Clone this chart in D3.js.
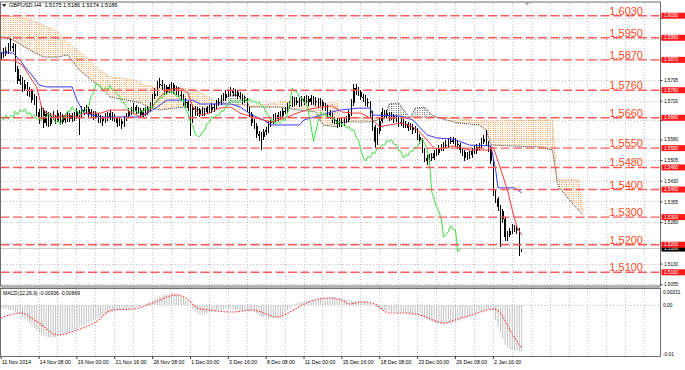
<!DOCTYPE html>
<html>
<head>
<meta charset="utf-8">
<script src="https://cdn.jsdelivr.net/npm/d3@7/dist/d3.min.js"></script>
<style>
  html, body { margin: 0; padding: 0; background: #ffffff; }
  svg { display: block; }
  text { font-family: "Liberation Sans", Arial, "DejaVu Sans", sans-serif; }
</style>
</head>
<body>
<svg id="chart" width="685" height="370"></svg>
<script>
// ================= DATA =================
const symbolTitle = "GBPUSD,H4  1.5175 1.5186 1.5174 1.5186";
const macdTitle = "MACD(12,26,9) -0.00936 -0.00869";

const timeLabels = ["11 Nov 2014","14 Nov 08:00","19 Nov 00:00","21 Nov 16:00","26 Nov 08:00","1 Dec 00:00","3 Dec 16:00","8 Dec 08:00","11 Dec 00:00","15 Dec 16:00","18 Dec 08:00","23 Dec 00:00","29 Dec 08:00","2 Jan 16:00"];
const timeLabelBars = [0,16,32,48,64,80,96,112,128,144,160,176,192,208];

const closes = [
1.5884,1.5902,1.5896,1.5921,1.5912,1.5920,1.5838,1.5795,1.5802,1.5766,
1.5784,1.5748,1.5760,1.5725,1.5735,1.5680,1.5664,1.5690,1.5640,1.5672,
1.5638,1.5668,1.5662,1.5650,1.5676,1.5646,1.5665,1.5652,1.5670,1.5655,
1.5668,1.5661,1.5684,1.5672,1.5690,1.5681,1.5693,1.5672,1.5680,1.5664,
1.5672,1.5654,1.5660,1.5648,1.5668,1.5660,1.5677,1.5662,1.5660,1.5642,
1.5650,1.5636,1.5660,1.5665,1.5684,1.5682,1.5700,1.5686,1.5688,1.5670,
1.5686,1.5678,1.5694,1.5702,1.5738,1.5748,1.5784,1.5780,1.5776,1.5755,
1.5770,1.5760,1.5778,1.5758,1.5764,1.5744,1.5740,1.5715,1.5716,1.5697,
1.5688,1.5695,1.5679,1.5687,1.5675,1.5686,1.5680,1.5694,1.5687,1.5700,
1.5694,1.5715,1.5716,1.5734,1.5730,1.5748,1.5745,1.5758,1.5749,1.5755,
1.5738,1.5740,1.5722,1.5726,1.5690,1.5675,1.5642,1.5632,1.5600,1.5594,
1.5592,1.5610,1.5614,1.5640,1.5643,1.5664,1.5657,1.5671,1.5668,1.5686,
1.5683,1.5704,1.5706,1.5726,1.5715,1.5722,1.5712,1.5727,1.5719,1.5729,
1.5716,1.5730,1.5716,1.5722,1.5711,1.5719,1.5701,1.5700,1.5676,1.5671,
1.5651,1.5653,1.5636,1.5646,1.5640,1.5653,1.5651,1.5675,1.5712,1.5768,
1.5756,1.5755,1.5734,1.5733,1.5716,1.5714,1.5676,1.5628,1.5574,1.5612,
1.5648,1.5682,1.5668,1.5676,1.5660,1.5668,1.5654,1.5657,1.5640,1.5646,
1.5633,1.5639,1.5622,1.5628,1.5614,1.5617,1.5590,1.5580,1.5545,1.5515,
1.5503,1.5519,1.5516,1.5534,1.5531,1.5552,1.5549,1.5563,1.5560,1.5577,
1.5574,1.5581,1.5564,1.5563,1.5542,1.5537,1.5514,1.5526,1.5524,1.5541,
1.5538,1.5555,1.5553,1.5574,1.5584,1.5566,1.5548,1.5502,1.5391,1.5366,
1.5336,1.5322,1.5292,1.5228,1.5236,1.5248,1.5268,1.5256,1.5254,1.5175,
1.5186];

const highs = [
1.5900,1.5912,1.5915,1.5932,1.5949,1.5930,1.5926,1.5848,1.5815,1.5808,
1.5796,1.5790,1.5772,1.5766,1.5745,1.5740,1.5692,1.5702,1.5696,1.5684,
1.5680,1.5678,1.5686,1.5670,1.5688,1.5682,1.5675,1.5672,1.5680,1.5678,
1.5676,1.5680,1.5694,1.5690,1.5702,1.5700,1.5706,1.5698,1.5692,1.5686,
1.5684,1.5678,1.5670,1.5666,1.5678,1.5680,1.5690,1.5682,1.5672,1.5664,
1.5660,1.5656,1.5668,1.5678,1.5694,1.5698,1.5712,1.5708,1.5700,1.5694,
1.5696,1.5698,1.5704,1.5716,1.5748,1.5768,1.5795,1.5806,1.5798,1.5784,
1.5780,1.5782,1.5790,1.5786,1.5776,1.5770,1.5756,1.5746,1.5730,1.5722,
1.5710,1.5706,1.5704,1.5698,1.5694,1.5698,1.5696,1.5704,1.5706,1.5712,
1.5710,1.5726,1.5732,1.5744,1.5750,1.5760,1.5764,1.5770,1.5768,1.5766,
1.5762,1.5752,1.5746,1.5738,1.5732,1.5700,1.5682,1.5654,1.5640,1.5612,
1.5608,1.5620,1.5628,1.5650,1.5656,1.5674,1.5676,1.5682,1.5684,1.5696,
1.5700,1.5714,1.5722,1.5738,1.5736,1.5734,1.5730,1.5738,1.5740,1.5742,
1.5738,1.5742,1.5738,1.5734,1.5730,1.5730,1.5726,1.5714,1.5706,1.5688,
1.5678,1.5664,1.5660,1.5656,1.5658,1.5664,1.5668,1.5688,1.5728,1.5782,
1.5784,1.5772,1.5762,1.5748,1.5742,1.5730,1.5720,1.5684,1.5634,1.5622,
1.5662,1.5694,1.5690,1.5688,1.5682,1.5680,1.5674,1.5670,1.5662,1.5658,
1.5654,1.5650,1.5646,1.5640,1.5636,1.5630,1.5624,1.5600,1.5586,1.5552,
1.5524,1.5530,1.5532,1.5544,1.5548,1.5562,1.5566,1.5574,1.5578,1.5588,
1.5592,1.5592,1.5586,1.5576,1.5568,1.5552,1.5542,1.5536,1.5540,1.5552,
1.5556,1.5566,1.5570,1.5586,1.5598,1.5616,1.5576,1.5556,1.5510,1.5402,
1.5372,1.5345,1.5328,1.5300,1.5248,1.5262,1.5275,1.5272,1.5268,1.5260,
1.5186];

const lows = [
1.5870,1.5876,1.5885,1.5890,1.5902,1.5898,1.5825,1.5782,1.5780,1.5752,
1.5758,1.5738,1.5735,1.5712,1.5705,1.5668,1.5638,1.5655,1.5622,1.5632,
1.5625,1.5630,1.5652,1.5638,1.5644,1.5634,1.5638,1.5640,1.5645,1.5644,
1.5646,1.5650,1.5655,1.5598,1.5664,1.5670,1.5675,1.5660,1.5664,1.5652,
1.5656,1.5642,1.5640,1.5632,1.5640,1.5650,1.5652,1.5650,1.5645,1.5628,
1.5630,1.5620,1.5628,1.5648,1.5658,1.5670,1.5676,1.5675,1.5672,1.5660,
1.5662,1.5668,1.5670,1.5686,1.5696,1.5728,1.5740,1.5768,1.5762,1.5744,
1.5746,1.5750,1.5754,1.5748,1.5744,1.5734,1.5726,1.5702,1.5700,1.5684,
1.5595,1.5640,1.5666,1.5668,1.5662,1.5666,1.5668,1.5672,1.5676,1.5678,
1.5682,1.5688,1.5704,1.5708,1.5720,1.5722,1.5734,1.5738,1.5738,1.5740,
1.5728,1.5726,1.5710,1.5712,1.5680,1.5662,1.5630,1.5618,1.5588,1.5575,
1.5545,1.5580,1.5598,1.5606,1.5628,1.5636,1.5646,1.5648,1.5656,1.5660,
1.5672,1.5676,1.5694,1.5700,1.5704,1.5706,1.5700,1.5704,1.5708,1.5710,
1.5704,1.5708,1.5705,1.5704,1.5700,1.5702,1.5690,1.5686,1.5664,1.5656,
1.5640,1.5636,1.5624,1.5626,1.5628,1.5632,1.5640,1.5644,1.5666,1.5704,
1.5744,1.5740,1.5724,1.5718,1.5704,1.5698,1.5664,1.5612,1.5550,1.5562,
1.5602,1.5640,1.5658,1.5660,1.5648,1.5652,1.5642,1.5644,1.5628,1.5630,
1.5622,1.5624,1.5612,1.5614,1.5602,1.5604,1.5580,1.5566,1.5532,1.5498,
1.5489,1.5494,1.5504,1.5508,1.5520,1.5524,1.5538,1.5540,1.5550,1.5552,
1.5564,1.5566,1.5554,1.5548,1.5532,1.5522,1.5505,1.5506,1.5512,1.5516,
1.5528,1.5530,1.5542,1.5546,1.5564,1.5556,1.5536,1.5492,1.5378,1.5352,
1.5322,1.5190,1.5278,1.5212,1.5214,1.5228,1.5240,1.5246,1.5238,1.5160,
1.5174];

// Ichimoku lines: [bar, price]
const tenkan = [[0,1.5869],[5,1.5869],[9,1.5851],[13,1.5797],[15,1.5772],[17,1.5699],[19,1.5677],[24,1.5663],[28,1.5670],[32,1.5663],[35,1.5677],[42,1.5677],[46,1.5688],[53,1.5688],[59,1.5663],[62,1.5681],[66,1.5724],[70,1.5761],[76,1.5768],[79,1.5750],[81,1.5699],[84,1.5670],[88,1.5677],[92,1.5695],[97,1.5699],[101,1.5677],[106,1.5663],[114,1.5645],[120,1.5659],[125,1.5677],[129,1.5688],[135,1.5699],[140,1.5703],[144,1.5681],[149,1.5677],[152,1.5677],[156,1.5659],[160,1.5627],[164,1.5634],[169,1.5641],[174,1.5627],[177,1.5608],[180,1.5579],[183,1.5550],[186,1.5547],[191,1.5558],[198,1.5543],[207,1.5543],[208,1.5554],[214,1.5398],[216,1.5326],[218,1.5264],[220,1.5235]];
const kijun = [[0,1.5895],[5,1.5895],[8,1.5869],[10,1.5844],[13,1.5815],[16,1.5779],[19,1.5772],[30,1.5772],[32,1.5724],[35,1.5677],[42,1.5663],[59,1.5663],[64,1.5688],[70,1.5724],[81,1.5724],[84,1.5710],[97,1.5710],[101,1.5699],[106,1.5670],[111,1.5652],[114,1.5634],[126,1.5634],[128,1.5652],[138,1.5677],[143,1.5688],[151,1.5695],[156,1.5695],[157,1.5670],[169,1.5666],[174,1.5652],[180,1.5598],[184,1.5587],[191,1.5583],[198,1.5561],[207,1.5558],[209,1.5471],[210,1.5406],[217,1.5406],[220,1.5388]];
const senkouA = [[0,1.5953],[5,1.5942],[12,1.5906],[18,1.5880],[24,1.5880],[28,1.5888],[33,1.5833],[38,1.5797],[42,1.5772],[46,1.5735],[53,1.5724],[59,1.5714],[62,1.5699],[67,1.5688],[73,1.5695],[79,1.5699],[84,1.5688],[88,1.5699],[92,1.5717],[97,1.5743],[103,1.5739],[105,1.5699],[117,1.5699],[126,1.5688],[133,1.5681],[136,1.5634],[142,1.5627],[143,1.5645],[156,1.5645],[162,1.5659],[164,1.5710],[168,1.5714],[171,1.5677],[173,1.5659],[175,1.5695],[179,1.5699],[182,1.5670],[185,1.5659],[193,1.5641],[202,1.5634],[205,1.5616],[207,1.5561],[228,1.5554],[233,1.5543],[235,1.5427],[236,1.5405],[242,1.5344],[246,1.5308]];
const senkouB = [[0,1.6032],[8,1.6025],[13,1.6014],[24,1.5971],[28,1.5931],[32,1.5906],[36,1.5880],[40,1.5844],[43,1.5826],[46,1.5808],[56,1.5797],[60,1.5779],[67,1.5768],[81,1.5764],[84,1.5753],[90,1.5724],[95,1.5710],[105,1.5703],[117,1.5714],[126,1.5724],[133,1.5714],[142,1.5714],[143,1.5659],[162,1.5656],[171,1.5659],[174,1.5663],[183,1.5663],[204,1.5648],[233,1.5652],[235,1.5435],[244,1.5435],[246,1.5318]];
const chikouShift = 26;

const macdMain = [
-0.0006,-0.0007,-0.0008,-0.0009,-0.0010,-0.0012,-0.0015,-0.0018,-0.0021,-0.0024,
-0.0028,-0.0032,-0.0036,-0.0041,-0.0046,-0.0051,-0.0056,-0.0059,-0.0061,-0.0063,
-0.0064,-0.0065,-0.0065,-0.0064,-0.0062,-0.0060,-0.0059,-0.0058,-0.0056,-0.0054,
-0.0051,-0.0048,-0.0046,-0.0044,-0.0042,-0.0040,-0.0037,-0.0034,-0.0032,-0.0030,
-0.0027,-0.0025,-0.0023,-0.0021,-0.0018,-0.0016,-0.0015,-0.0014,-0.0013,-0.0011,
-0.0010,-0.00096,-0.0009,-0.00085,-0.0008,-0.0007,-0.0006,-0.0004,-0.0003,-0.00015,
0.00005,0.00025,0.00045,0.0007,0.00095,0.0012,0.00145,0.00165,0.0019,0.00205,
0.0022,0.00228,0.00235,0.00235,0.00225,0.0021,0.0018,0.0014,0.0009,0.0003,
-0.0003,-0.0008,-0.0013,-0.00165,-0.00185,-0.0020,-0.0019,-0.0017,-0.0015,-0.0014,
-0.0013,-0.0012,-0.0011,-0.0010,-0.0009,-0.00085,-0.00085,-0.0009,-0.00095,-0.0010,
-0.0010,-0.00105,-0.0011,-0.00115,-0.00125,-0.0013,-0.00135,-0.0015,-0.0017,-0.0020,
-0.0023,-0.0024,-0.0025,-0.0026,-0.00265,-0.00265,-0.0026,-0.0025,-0.0024,-0.0023,
-0.0016,-0.0010,-0.0005,-0.0001,0.0002,0.00035,0.00045,0.00055,0.00065,0.00075,
0.00085,0.0009,0.0010,0.0011,0.0012,0.0013,0.0014,0.00145,0.0015,0.00155,
0.00155,0.0015,0.0014,0.0013,0.00125,0.00115,0.00108,0.0010,0.0009,0.0008,
0.0007,0.0006,0.0006,0.0006,0.0006,0.00055,0.0004,0.0002,-0.0002,-0.0006,
-0.0009,-0.0010,-0.0011,-0.0012,-0.0013,-0.0014,-0.0014,-0.00145,-0.0015,-0.00155,
-0.0016,-0.00165,-0.0017,-0.00175,-0.0018,-0.00185,-0.0020,-0.0022,-0.0024,-0.0026,
-0.00285,-0.0031,-0.0033,-0.0034,-0.0035,-0.0036,-0.0037,-0.0038,-0.0038,-0.00375,
-0.0037,-0.0036,-0.0034,-0.0032,-0.0030,-0.0028,-0.00265,-0.0025,-0.0023,-0.0021,
-0.0019,-0.0017,-0.0015,-0.0013,-0.0011,-0.0009,-0.0008,-0.0009,-0.0012,-0.0030,
-0.0044,-0.0056,-0.0068,-0.0080,-0.0084,-0.0088,-0.0090,-0.00906,-0.00916,-0.00926,
-0.00936];
const macdSignal = [[0,-0.0026],[8,-0.0016],[16,-0.0036],[24,-0.0060],[32,-0.0050],[40,-0.0034],[47,-0.0010],[56,-0.0008],[64,0.0004],[74,0.0020],[78,0.0014],[83,-0.0006],[88,-0.0010],[98,-0.0014],[106,-0.0010],[117,-0.0024],[122,-0.0014],[130,0.0006],[138,0.0014],[144,0.0010],[147,0.0002],[152,0.0006],[157,0.0004],[164,-0.0016],[171,-0.0016],[177,-0.0020],[187,-0.0036],[193,-0.0028],[199,-0.0020],[208,-0.0008],[211,-0.0016],[215,-0.0050],[220,-0.00869]];

const levelPrices = [1.6030,1.5950,1.5870,1.5760,1.5660,1.5550,1.5480,1.5400,1.5300,1.5200,1.5100];
const priceTicks = [1.6020,1.5945,1.5870,1.5795,1.5720,1.5650,1.5580,1.5505,1.5430,1.5355,1.5280,1.5205,1.5130,1.5055];
const macdTicks = [0.00331, 0, -0.01];
const macdTickLabels = ["0.00331","0.00","-0.01"];
const bidPrice = 1.5186;

// ================= DRAWING =================
const svg = d3.select('#chart');
const L = 0.5, R = 660.5, T = 2.5, B = 286, MT = 288.5, MB = 356.5;
const x = d3.scaleLinear().domain([0, 208]).range([1.2, 493.3]);
const y = d3.scaleLinear().domain([1.51, 1.603]).range([272.3, 15.7]);
const ym = d3.scaleLinear().domain([0, -0.01]).range([305, 355]);
const bw = x(1) - x(0);

svg.append('rect').attr('width', 685).attr('height', 370).attr('fill', '#fff');

const defs = svg.append('defs');
defs.append('clipPath').attr('id', 'clipMain').append('rect')
  .attr('x', L).attr('y', T).attr('width', R - L).attr('height', B - T);
defs.append('clipPath').attr('id', 'clipMacd').append('rect')
  .attr('x', L).attr('y', MT).attr('width', R - L).attr('height', MB - MT);

function dotPattern(id, color) {
  const p = defs.append('pattern').attr('id', id)
    .attr('patternUnits', 'userSpaceOnUse')
    .attr('x', x(0) - 0.5).attr('y', 0)
    .attr('width', bw).attr('height', 2);
  p.append('rect').attr('width', 1).attr('height', 1).attr('fill', color);
}
dotPattern('upKumo', '#f39c45');
dotPattern('downKumo', '#6a6a6a');

const areaTop = d3.area().x(d => x(d[0])).y0(T - 30).y1(d => y(d[1]));
const areaBottom = d3.area().x(d => x(d[0])).y0(B + 30).y1(d => y(d[1]));
defs.append('clipPath').attr('id', 'aboveA').append('path').attr('d', areaTop(senkouA));
defs.append('clipPath').attr('id', 'aboveB').append('path').attr('d', areaTop(senkouB));

// ---- grid ----
const grid = svg.append('g').attr('stroke', '#c4c4c4').attr('stroke-dasharray', '1,2').attr('shape-rendering', 'crispEdges');
const vBars = d3.range(8, 280, 8).filter(b => x(b) < R - 1);
vBars.forEach(b => {
  grid.append('line').attr('x1', x(b)).attr('x2', x(b)).attr('y1', T).attr('y2', B);
  grid.append('line').attr('x1', x(b)).attr('x2', x(b)).attr('y1', MT).attr('y2', MB);
});
priceTicks.forEach(p => {
  grid.append('line').attr('x1', L).attr('x2', R).attr('y1', y(p)).attr('y2', y(p));
});
grid.append('line').attr('x1', L).attr('x2', R).attr('y1', ym(0)).attr('y2', ym(0));

// ---- main panel ----
const g = svg.append('g').attr('clip-path', 'url(#clipMain)');

// bid line
g.append('line').attr('x1', L).attr('x2', R).attr('y1', y(bidPrice)).attr('y2', y(bidPrice))
  .attr('stroke', '#c8c8c8').attr('stroke-width', 1);

// kumo
g.append('g').attr('clip-path', 'url(#aboveA)')
  .append('path').attr('d', areaBottom(senkouB)).attr('fill', 'url(#upKumo)');
g.append('g').attr('clip-path', 'url(#aboveB)')
  .append('path').attr('d', areaBottom(senkouA)).attr('fill', 'url(#downKumo)');

const line = d3.line().x(d => x(d[0])).y(d => y(d[1]));
g.append('path').attr('d', line(senkouB)).attr('fill', 'none')
  .attr('stroke', '#f4a460').attr('stroke-width', 1).attr('stroke-dasharray', '1,1');
g.append('path').attr('d', line(senkouA)).attr('fill', 'none')
  .attr('stroke', '#333333').attr('stroke-width', 1).attr('stroke-dasharray', '1,1');

// candles
const bars = d3.range(closes.length);
const cg = g.append('g').attr('shape-rendering', 'crispEdges');
cg.selectAll('line.wick').data(bars).join('line').attr('class', 'wick')
  .attr('x1', i => x(i)).attr('x2', i => x(i))
  .attr('y1', i => y(highs[i])).attr('y2', i => y(lows[i]))
  .attr('stroke', '#000').attr('stroke-width', 1);
cg.selectAll('rect.body').data(bars).join('rect').attr('class', 'body')
  .attr('x', i => x(i) - 0.7).attr('width', 1.5)
  .attr('y', i => { const o = i ? closes[i - 1] : closes[i]; return y(Math.max(o, closes[i])); })
  .attr('height', i => { const o = i ? closes[i - 1] : closes[i]; return Math.max(1, Math.abs(y(o) - y(closes[i]))); })
  .attr('fill', '#000');

// indicator lines
g.append('path').attr('d', line(kijun)).attr('fill', 'none').attr('stroke', '#3a3af0').attr('stroke-width', 1);
g.append('path').attr('d', line(tenkan)).attr('fill', 'none').attr('stroke', '#f03a3a').attr('stroke-width', 1);
const chikouPts = d3.range(0, closes.length - chikouShift).map(j => [j, closes[j + chikouShift]]);
g.append('path').attr('d', line(chikouPts)).attr('fill', 'none').attr('stroke', '#3ee03e').attr('stroke-width', 1);

// level lines
levelPrices.forEach(p => {
  g.append('line').attr('x1', L).attr('x2', R).attr('y1', y(p)).attr('y2', y(p))
    .attr('stroke', '#ff5a5a').attr('stroke-width', 1.4).attr('stroke-dasharray', '9,3.5');
  g.append('text').attr('x', 643).attr('y', y(p) - 1).attr('text-anchor', 'end')
    .attr('font-size', 11).attr('fill', '#ff4d1f').text(p.toFixed(4));
});

// header
svg.append('path').attr('d', 'M2,4.2 L6.4,4.2 L4.2,6.8 Z').attr('fill', '#000');
svg.append('text').attr('x', 9).attr('y', 7.4).attr('font-size', 5.6).attr('fill', '#000')
  .attr('xml:space', 'preserve').text(symbolTitle);
svg.append('path').attr('d', 'M524.5,2.5 L529.5,2.5 L527,5.5 Z').attr('fill', '#a8a8a8');

// ---- MACD panel ----
const mg = svg.append('g').attr('clip-path', 'url(#clipMacd)');
mg.selectAll('line.h').data(bars).join('line').attr('class', 'h')
  .attr('x1', i => x(i)).attr('x2', i => x(i))
  .attr('y1', ym(0)).attr('y2', i => ym(macdMain[i]))
  .attr('stroke', '#c2c2c2').attr('stroke-width', 1);
const sline = d3.line().x(d => x(d[0])).y(d => ym(d[1])).curve(d3.curveMonotoneX);
mg.append('path').attr('d', sline(macdSignal)).attr('fill', 'none')
  .attr('stroke', '#ff3030').attr('stroke-width', 1.1).attr('stroke-dasharray', '1.5,1.5');
svg.append('text').attr('x', 3).attr('y', 295.3).attr('font-size', 5).attr('fill', '#000').text(macdTitle);

// ---- frames ----
const frame = svg.append('g').attr('fill', 'none').attr('stroke', '#6e6e6e').attr('stroke-width', 1);
frame.append('rect').attr('x', L).attr('y', T - 0.5).attr('width', R - L).attr('height', B - T + 0.5);
frame.append('rect').attr('x', L).attr('y', MT).attr('width', R - L).attr('height', MB - MT);
svg.append('line').attr('x1', L).attr('x2', R).attr('y1', 287.3).attr('y2', 287.3).attr('stroke', '#a0a0a0').attr('stroke-width', 1);

// ---- right price axis ----
const ax = svg.append('g');
const boxYs = levelPrices.map(p => y(p)).concat([y(bidPrice)]);
priceTicks.forEach(p => {
  ax.append('line').attr('x1', R).attr('x2', R + 2).attr('y1', y(p)).attr('y2', y(p)).attr('stroke', '#333');
  // labels hidden under a level box are not printed (they are covered in the original)
  if (boxYs.some(by => Math.abs(by - y(p)) < 5.5)) return;
  ax.append('text').attr('x', 664).attr('y', y(p) + 1.6).attr('font-size', 4.6).attr('fill', '#000').text(p.toFixed(4));
});
// bid label
ax.append('rect').attr('x', 661.5).attr('y', y(bidPrice) - 3).attr('width', 23.5).attr('height', 6).attr('fill', '#000');
ax.append('text').attr('x', 664).attr('y', y(bidPrice) + 1.6).attr('font-size', 4.6).attr('fill', '#fff').text(bidPrice.toFixed(4));
levelPrices.forEach(p => {
  ax.append('rect').attr('x', 661.5).attr('y', y(p) - 3).attr('width', 23.5).attr('height', 6).attr('fill', '#ff1a1a');
  ax.append('text').attr('x', 664).attr('y', y(p) + 1.6).attr('font-size', 4.6).attr('fill', '#fff').text(p.toFixed(4));
});
// MACD axis
macdTicks.forEach((v, k) => {
  const yy = k === 0 ? MT + 3.5 : (k === 2 ? MB - 2.5 : ym(v));
  ax.append('text').attr('x', 663).attr('y', yy + 1.6).attr('font-size', 4.8).attr('fill', '#000').text(macdTickLabels[k]);
});

// ---- time axis ----
timeLabelBars.forEach((b, k) => {
  svg.append('line').attr('x1', x(b)).attr('x2', x(b)).attr('y1', MB).attr('y2', MB + 2.5).attr('stroke', '#333');
  svg.append('text').attr('x', x(b) + 0.8).attr('y', 364.2).attr('font-size', 5.2).attr('fill', '#000').text(timeLabels[k]);
});
</script>
</body>
</html>
